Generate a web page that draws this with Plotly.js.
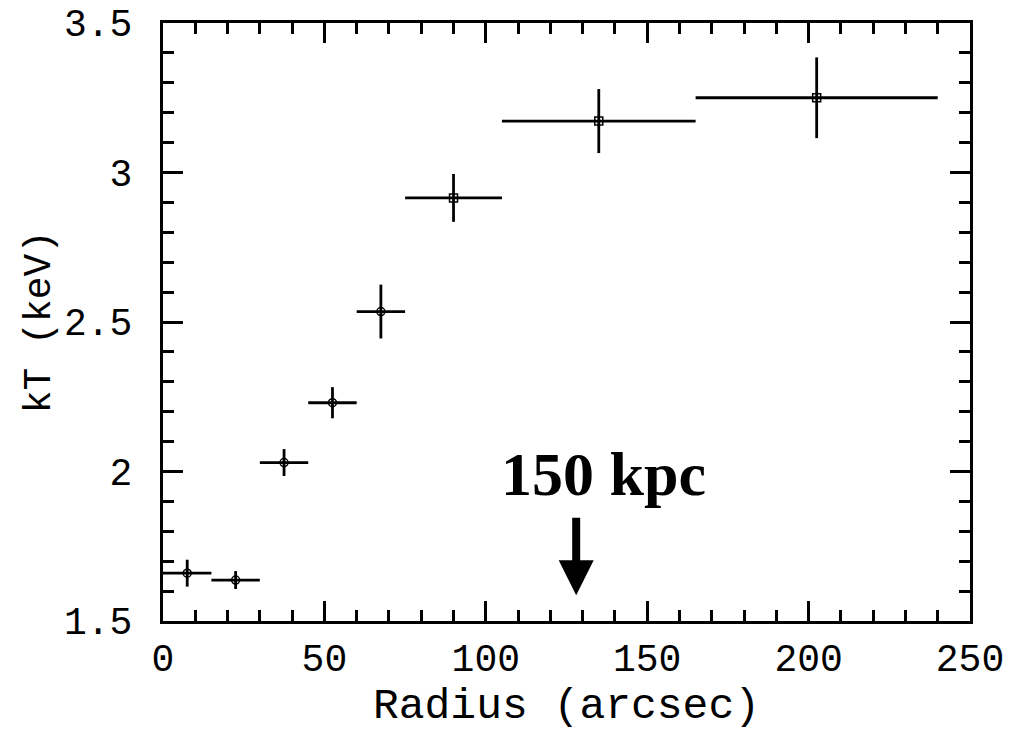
<!DOCTYPE html>
<html>
<head>
<meta charset="utf-8">
<script src="https://cdn.plot.ly/plotly-3.0.1.min.js"></script>
<style>html,body{margin:0;padding:0;background:#fff;}</style>
</head>
<body>
<div id="chart" style="width:1010px;height:740px;"></div>
<script>
// Radial temperature profile
const radius    = [7.5, 22.5, 37.5, 52.5, 67.5, 90, 135, 202.5];
const radiusErr = [7.5, 7.5, 7.5, 7.5, 7.5, 15, 30, 37.5];
const kT        = [1.66, 1.637, 2.03, 2.23, 2.535, 2.915, 3.172, 3.25];
const kTErr     = [0.045, 0.03, 0.045, 0.052, 0.09, 0.08, 0.107, 0.135];
const markerSymbols = ['circle-open','circle-open','circle-open','circle-open','circle-open','square-open','square-open','square-open'];
const xTickVals = [0, 50, 100, 150, 200, 250];
const yTickVals = [1.5, 2, 2.5, 3, 3.5];
const yTickText = ['1.5', '2', '2.5', '3', '3.5'];
const markerRadius = 128;
const markerKT = 1.586;
const markerLabel = '150 kpc';

const tickFont = {family: 'Liberation Mono, Courier New, monospace', size: 38, color: '#000'};

const trace = {
  x: radius, y: kT, type: 'scatter', mode: 'markers',
  marker: {symbol: markerSymbols, size: 8, color: '#000', line: {color: '#000', width: 1.5}},
  error_x: {type: 'data', array: radiusErr, visible: true, color: '#000', thickness: 2.8, width: 0},
  error_y: {type: 'data', array: kTErr, visible: true, color: '#000', thickness: 2.8, width: 0},
  hoverinfo: 'skip', showlegend: false
};

const axisCommon = {
  showgrid: false, zeroline: false, showline: true, linecolor: '#000', linewidth: 3,
  mirror: 'allticks', ticks: 'inside', ticklen: 20, tickwidth: 3, tickcolor: '#000',
  tickfont: tickFont
};

const layout = {
  width: 1010, height: 740,
  margin: {l: 163, r: 40, t: 23, b: 119},
  paper_bgcolor: '#fff', plot_bgcolor: '#fff',
  xaxis: Object.assign({}, axisCommon, {
    range: [0, 250], tickvals: xTickVals, ticklabelstandoff: 1,
    minor: {dtick: 10, ticks: 'inside', ticklen: 11, tickwidth: 3, tickcolor: '#000'},
    title: {text: 'Radius (arcsec)', font: {family: 'Liberation Mono, Courier New, monospace', size: 43, color: '#000'}, standoff: 0}
  }),
  yaxis: Object.assign({}, axisCommon, {
    range: [1.5, 3.5], tickvals: yTickVals, ticktext: yTickText, ticklabelstandoff: 20,
    minor: {dtick: 0.1, ticks: 'inside', ticklen: 11, tickwidth: 3, tickcolor: '#000'},
    title: {text: 'kT (keV)', font: {family: 'Liberation Mono, Courier New, monospace', size: 38, color: '#000'}, standoff: 2}
  }),
  annotations: [
    {x: markerRadius, y: markerKT, xref: 'x', yref: 'y', text: '', showarrow: true,
     ax: 0, ay: -79, arrowhead: 2, arrowwidth: 8, arrowsize: 0.875, arrowcolor: '#000', standoff: 0, startstandoff: 0},
    {x: 136.5, y: 1.992, xref: 'x', yref: 'y', text: markerLabel, showarrow: false,
     xanchor: 'center', yanchor: 'middle',
     font: {family: 'Liberation Serif, Times New Roman, serif', size: 62, color: '#000', weight: 'bold'}}
  ]
};

Plotly.newPlot('chart', [trace], layout, {displayModeBar: false, staticPlot: true});
</script>
</body>
</html>
